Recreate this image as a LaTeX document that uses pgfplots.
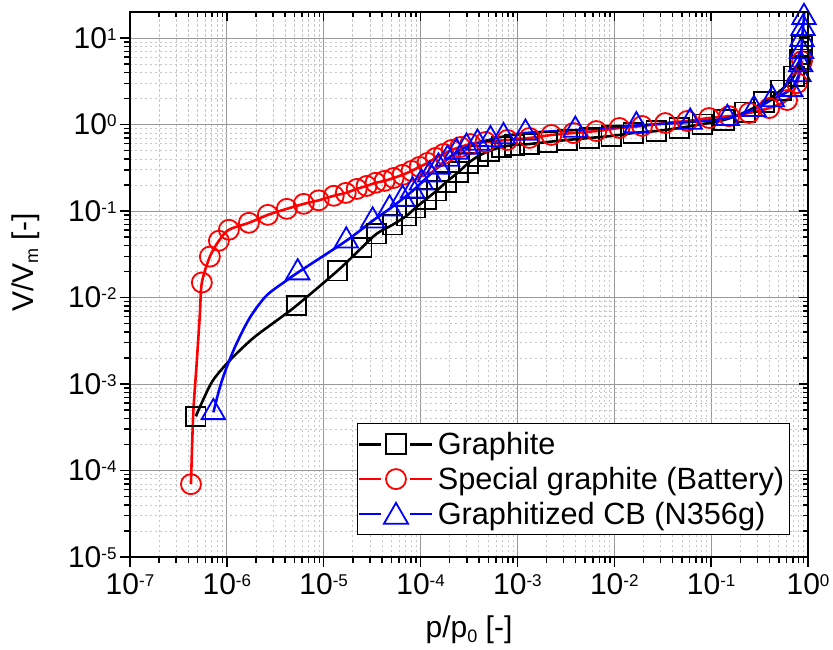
\documentclass[border=0pt]{standalone}
\usepackage{fontspec}
\setmainfont{Liberation Sans}
\usepackage{pgfplots}
\usepackage{pgfplotstable}
\pgfplotsset{compat=1.18}
\newcommand{\tl}[1]{10\raisebox{8pt}{\fontsize{17}{17}\selectfont #1}}
\newcommand{\lsub}[1]{\raisebox{-5pt}{\fontsize{18}{18}\selectfont #1}}

\pgfplotstableread{
x y m
4.78e-7 4.23e-4 1
5.66e-7 6.47e-4 0
7.18e-7 1.10e-3 0
1.07e-6 1.87e-3 0
1.85e-6 3.36e-3 0
3.27e-6 5.42e-3 0
5.24e-6 8.07e-3 1
1.39e-5 0.0204 1
2.47e-5 0.0377 1
3.52e-5 0.0546 1
5.14e-5 0.0693 1
7.17e-5 0.0881 1
8.88e-5 0.109 1
1.15e-4 0.138 1
1.46e-4 0.171 1
1.85e-4 0.217 1
2.47e-4 0.283 1
3.13e-4 0.360 1
3.96e-4 0.433 1
5.14e-4 0.495 1
6.84e-4 0.550 1
9.31e-4 0.580 1
1.33e-3 0.595 1
2.04e-3 0.628 1
3.27e-3 0.663 1
5.52e-3 0.699 1
9.31e-3 0.737 1
1.57e-2 0.798 1
2.71e-2 0.841 1
4.68e-2 0.912 1
8.07e-2 1.01 1
0.136 1.13 1
0.224 1.39 1
0.352 1.82 1
0.527 2.50 1
0.718 3.62 1
0.828 5.69 1
0.867 8.04 1
}\tabgraphite

\pgfplotstableread{
x y m
4.26e-7 6.95e-5 1
4.50e-7 4.58e-4 0
4.88e-7 1.73e-3 0
5.27e-7 6.52e-3 0
5.52e-7 0.0149 1
6.68e-7 0.0297 1
8.28e-7 0.0453 1
1.05e-6 0.0607 1
1.69e-6 0.0731 1
2.65e-6 0.0903 1
4.16e-6 0.106 1
6.22e-6 0.121 1
8.87e-6 0.133 1
1.27e-5 0.150 1
1.69e-5 0.162 1
2.19e-5 0.180 1
2.77e-5 0.195 1
3.43e-5 0.212 1
4.25e-5 0.223 1
5.27e-5 0.241 1
6.52e-5 0.262 1
8.07e-5 0.291 1
9.77e-5 0.324 1
1.18e-4 0.360 1
1.43e-4 0.411 1
1.73e-4 0.457 1
2.09e-4 0.508 1
2.58e-4 0.550 1
3.27e-4 0.595 1
4.68e-4 0.628 1
7.88e-4 0.663 1
1.33e-3 0.699 1
2.24e-3 0.757 1
3.78e-3 0.798 1
6.52e-3 0.841 1
1.13e-2 0.912 1
1.94e-2 0.962 1
3.36e-2 1.04 1
5.66e-2 1.10 1
9.53e-2 1.19 1
0.153 1.25 1
0.247 1.36 1
0.397 1.55 1
0.608 1.92 1
0.771 3.01 1
0.867 5.40 1
}\tabbattery

\pgfplotstableread{
x y m
7.26e-7 4.70e-4 1
8.47e-7 9.14e-4 0
9.93e-7 1.55e-3 0
1.26e-6 2.94e-3 0
1.73e-6 5.86e-3 0
2.56e-6 0.0105 0
4.12e-6 0.0157 0
5.39e-6 0.0194 1
1.71e-5 0.0453 1
3.20e-5 0.0771 1
4.79e-5 0.106 1
6.52e-5 0.138 1
8.27e-5 0.171 1
1.02e-4 0.212 1
1.24e-4 0.262 1
1.53e-4 0.324 1
1.90e-4 0.400 1
2.35e-4 0.482 1
2.98e-4 0.550 1
3.87e-4 0.612 1
5.27e-4 0.671 1
7.18e-4 0.728 1
1.21e-3 0.798 1
3.96e-3 0.864 1
1.69e-2 0.974 1
6.08e-2 1.07 1
0.147 1.18 1
0.277 1.50 1
0.428 1.95 1
0.663 2.55 1
0.807 3.79 1
0.840 4.94 1
0.857 7.05 1
0.867 9.68 1
0.888 13.0 1
0.909 17.4 1
0.920 23.0 1
}\tabgcb

\begin{document}
\begin{tikzpicture}
\useasboundingbox (-130pt,-93pt) rectangle (703pt,557pt);
\begin{axis}[
  scale only axis, width=678pt, height=545pt,
  xmode=log, ymode=log,
  xmin=1e-7, xmax=1, ymin=1e-5, ymax=20,
  xtick={1e-7,1e-6,1e-5,1e-4,1e-3,1e-2,1e-1,1},
  ytick={1e-5,1e-4,1e-3,1e-2,1e-1,1,10},
  minor xtick={2e-7,3e-7,4e-7,5e-7,6e-7,7e-7,8e-7,9e-7,
               2e-6,3e-6,4e-6,5e-6,6e-6,7e-6,8e-6,9e-6,
               2e-5,3e-5,4e-5,5e-5,6e-5,7e-5,8e-5,9e-5,
               2e-4,3e-4,4e-4,5e-4,6e-4,7e-4,8e-4,9e-4,
               2e-3,3e-3,4e-3,5e-3,6e-3,7e-3,8e-3,9e-3,
               2e-2,3e-2,4e-2,5e-2,6e-2,7e-2,8e-2,9e-2,
               0.2,0.3,0.4,0.5,0.6,0.7,0.8,0.9},
  minor ytick={2e-5,3e-5,4e-5,5e-5,6e-5,7e-5,8e-5,9e-5,
               2e-4,3e-4,4e-4,5e-4,6e-4,7e-4,8e-4,9e-4,
               2e-3,3e-3,4e-3,5e-3,6e-3,7e-3,8e-3,9e-3,
               2e-2,3e-2,4e-2,5e-2,6e-2,7e-2,8e-2,9e-2,
               0.2,0.3,0.4,0.5,0.6,0.7,0.8,0.9,
               2,3,4,5,6,7,8,9},
  axis line style={line width=2pt},
  every tick/.style={black, line width=1.5pt},
  xtick pos=left, ytick pos=left, tick align=outside,
  major tick length=10pt, minor tick length=6pt,
  xticklabels={\tl{-7},\tl{-6},\tl{-5},\tl{-4},\tl{-3},\tl{-2},\tl{-1},\tl{0}},
  yticklabels={\tl{-5},\tl{-4},\tl{-3},\tl{-2},\tl{-1},\tl{0},\tl{1}},
  tick label style={font=\fontsize{30}{34}\selectfont},
  xticklabel style={yshift=-3pt},
  grid=both,
  major grid style={draw=black!40, line width=1pt},
  minor grid style={draw=black!22, line width=0.8pt, dash pattern=on 2.5pt off 2.5pt},
  xlabel={p/p\lsub{0} [-]},
  ylabel={V/V\lsub{m} [-]},
  label style={font=\fontsize{30}{34}\selectfont},
  xlabel style={at={(rel axis cs:0.5,-0.1486)}, anchor=base},
  ylabel style={at={(rel axis cs:-0.143,0.54)}, anchor=base},
  legend style={at={(rel axis cs:0.973,0.040)}, anchor=south east,
    draw=black, line width=1pt, font=\fontsize{30.7}{34}\selectfont,
    inner xsep=1pt, inner ysep=5pt, row sep=3pt,
    nodes={inner sep=4pt}},
  legend cell align=left,
  clip=true,
]
\addplot[black, line width=2.6pt, smooth, tension=0.5,
  legend image code/.code={
    \draw[black, line width=2.6pt] (0pt,0pt) -- (22pt,0pt) (51pt,0pt) -- (73pt,0pt);
    \draw[black, line width=1.8pt] plot[mark=square, mark size=10pt] coordinates {(36.5pt,0pt)};
  }] table[x=x,y=y] {\tabgraphite};
\addlegendentry{Graphite}
\addplot[black, only marks, mark=square, mark size=9.7pt, mark options={line width=1.8pt, fill=none}, forget plot,
  restrict expr to domain={\thisrow{m}}{0.5:1.5}] table[x=x,y=y] {\tabgraphite};

\addplot[red, line width=2.6pt, smooth, tension=0.5,
  legend image code/.code={
    \draw[red, line width=2.6pt] (0pt,0pt) -- (22pt,0pt) (51pt,0pt) -- (73pt,0pt);
    \draw[red, line width=1.8pt] plot[mark=o, mark size=10pt] coordinates {(36.5pt,0pt)};
  }] table[x=x,y=y] {\tabbattery};
\addlegendentry{Special graphite (Battery)}
\addplot[red, only marks, mark=o, mark size=10pt, mark options={line width=1.8pt, fill=none}, forget plot,
  restrict expr to domain={\thisrow{m}}{0.5:1.5}] table[x=x,y=y] {\tabbattery};

\addplot[blue, line width=2.6pt, smooth, tension=0.5,
  legend image code/.code={
    \draw[blue, line width=2.6pt] (0pt,0pt) -- (22pt,0pt) (51pt,0pt) -- (73pt,0pt);
    \draw[blue, line width=1.8pt] plot[mark=triangle, mark size=14pt] coordinates {(36.5pt,-3pt)};
  }] table[x=x,y=y] {\tabgcb};
\addlegendentry{Graphitized CB (N356g)}
\addplot[blue, only marks, mark=triangle, mark size=13.5pt, mark options={line width=1.8pt, fill=none}, forget plot,
  restrict expr to domain={\thisrow{m}}{0.5:1.5}] table[x=x,y=y] {\tabgcb};
\end{axis}
\begin{axis}[
  scale only axis, width=678pt, height=545pt,
  xmode=log, ymode=log,
  xmin=1e-7, xmax=1, ymin=1e-5, ymax=20,
  xtick={1e-7,1e-6,1e-5,1e-4,1e-3,1e-2,1e-1,1},
  ytick={1e-5,1e-4,1e-3,1e-2,1e-1,1,10},
  minor xtick={2e-7,3e-7,4e-7,5e-7,6e-7,7e-7,8e-7,9e-7,
               2e-6,3e-6,4e-6,5e-6,6e-6,7e-6,8e-6,9e-6,
               2e-5,3e-5,4e-5,5e-5,6e-5,7e-5,8e-5,9e-5,
               2e-4,3e-4,4e-4,5e-4,6e-4,7e-4,8e-4,9e-4,
               2e-3,3e-3,4e-3,5e-3,6e-3,7e-3,8e-3,9e-3,
               2e-2,3e-2,4e-2,5e-2,6e-2,7e-2,8e-2,9e-2,
               0.2,0.3,0.4,0.5,0.6,0.7,0.8,0.9},
  minor ytick={2e-5,3e-5,4e-5,5e-5,6e-5,7e-5,8e-5,9e-5,
               2e-4,3e-4,4e-4,5e-4,6e-4,7e-4,8e-4,9e-4,
               2e-3,3e-3,4e-3,5e-3,6e-3,7e-3,8e-3,9e-3,
               2e-2,3e-2,4e-2,5e-2,6e-2,7e-2,8e-2,9e-2,
               0.2,0.3,0.4,0.5,0.6,0.7,0.8,0.9,
               2,3,4,5,6,7,8,9},
  axis line style={line width=2pt},
  every tick/.style={black, line width=1.5pt},
  xtick pos=right, ytick pos=right, tick align=inside,
  major tick length=9pt, minor tick length=5pt,
  xticklabels={}, yticklabels={},
]
\end{axis}
\end{tikzpicture}
\end{document}
